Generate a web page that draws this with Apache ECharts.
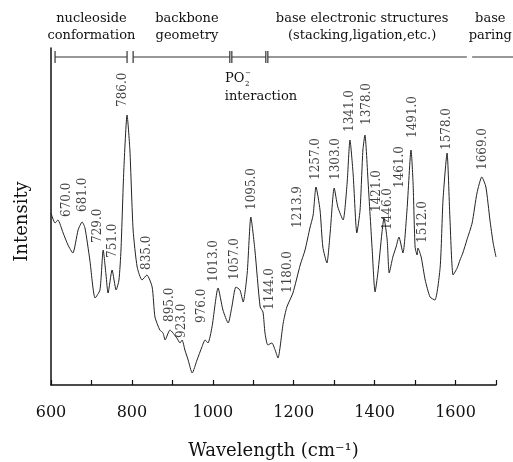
<!DOCTYPE html>
<html>
<head>
<meta charset="utf-8">
<script src="https://cdn.jsdelivr.net/npm/echarts@6/dist/echarts.min.js"></script>
<style>
html, body { margin: 0; padding: 0; background: #fff; }
#chart { width: 513px; height: 462px; }
</style>
</head>
<body>
<div id="chart"></div>
<script>
// spectrum (intensity in arbitrary units)
const wavenumber = [600, 610, 617, 630, 642, 654, 667, 677, 684, 696, 709, 721, 729, 736, 741, 751, 761, 768, 773, 780,
  788, 795, 803, 813, 825, 837, 850, 857, 869, 877, 882, 894, 911, 919, 924, 931, 939, 949, 961, 973,
  981, 988, 998, 1013, 1025, 1038, 1047, 1057, 1067, 1075, 1085, 1094, 1104, 1117, 1124, 1129, 1136, 1146, 1154, 1161,
  1174, 1183, 1198, 1216, 1228, 1240, 1248, 1255, 1265, 1272, 1282, 1290, 1300, 1309, 1322, 1332, 1339, 1347, 1356, 1364,
  1371, 1376, 1384, 1394, 1401, 1408, 1418, 1423, 1431, 1436, 1445, 1453, 1460, 1470, 1480, 1490, 1495, 1500, 1505, 1507,
  1515, 1525, 1537, 1549, 1562, 1569, 1579, 1586, 1594, 1604, 1611, 1618, 1628, 1641, 1653, 1665, 1675, 1685, 1693, 1700];
const intensity = [172, 162, 165, 152, 140, 132, 155, 163, 157, 125, 87, 95, 135, 110, 92, 115, 95, 105, 135, 215,
  270, 235, 155, 118, 105, 110, 98, 68, 55, 52, 45, 55, 47, 42, 45, 35, 25, 12, 25, 38,
  45, 42, 58, 97, 75, 62, 78, 98, 95, 83, 112, 168, 135, 78, 73, 52, 40, 42, 35, 27,
  62, 78, 92, 120, 135, 157, 170, 198, 175, 138, 122, 152, 197, 178, 165, 202, 245, 210, 152, 175,
  235, 250, 202, 135, 93, 112, 152, 167, 145, 112, 128, 138, 148, 132, 175, 235, 202, 138, 130, 137,
  128, 105, 88, 85, 118, 185, 232, 168, 110, 117, 125, 132, 145, 162, 192, 208, 198, 165, 142, 128];

// peak labels and where they sit
const peakText = ['670.0', '681.0', '729.0', '751.0', '786.0', '835.0', '895.0', '923.0', '976.0', '1013.0',
  '1057.0', '1095.0', '1144.0', '1180.0', '1213.9', '1257.0', '1303.0', '1341.0', '1378.0', '1421.0',
  '1446.0', '1461.0', '1491.0', '1512.0', '1578.0', '1669.0'];
const peakX = [639, 678, 717, 753, 778, 837, 894, 924, 973, 1003,
  1055, 1097, 1141, 1186, 1211, 1255, 1305, 1339, 1381, 1406,
  1433, 1463, 1495, 1520, 1579, 1668];
const peakY = [168, 173, 142, 127, 278, 115, 63, 47, 62, 103,
  105, 175, 75, 92, 157, 205, 205, 253, 260, 173,
  155, 197, 247, 142, 235, 215];

// assignment brackets along the top
const regionStart = [610, 803, 1047, 1136, 1641];
const regionEnd = [788, 1042, 1131, 1628, 1745];
const regionCapStart = [true, true, true, true, false];
const regionCapEnd = [true, true, true, false, false];
const regionLine1 = ['nucleoside', 'backbone', '', 'base electronic structures', 'base'];
const regionLine2 = ['conformation', 'geometry', '', '(stacking,ligation,etc.)', 'paring'];
const regionTextAt = [700, 936, 0, 1369, 1686];

const serif = 'DejaVu Serif';
const chart = echarts.init(document.getElementById('chart'));

chart.setOption({
  animation: false,
  grid: { left: 51, right: 17, top: 48, bottom: 77, outerBoundsMode: 'none' },
  xAxis: {
    type: 'value', min: 600, max: 1700, interval: 100,
    name: 'Wavelength (cm\u207B\u00B9)', nameLocation: 'middle', nameGap: 57,
    nameTextStyle: { fontFamily: serif, fontSize: 18, color: '#111' },
    axisLine: { lineStyle: { color: '#111', width: 1.5 } },
    axisTick: { inside: true, length: 5, lineStyle: { color: '#111', width: 1.2 } },
    axisLabel: { interval: 1, fontFamily: serif, fontSize: 16, color: '#111', margin: 20,
      formatter: v => (v % 200 === 0 ? String(v) : '') },
    splitLine: { show: false }
  },
  yAxis: {
    type: 'value', min: 0, max: 337,
    name: 'Intensity', nameLocation: 'middle', nameGap: 20,
    nameTextStyle: { fontFamily: serif, fontSize: 18, color: '#111', padding: [0, 10, 0, 0] },
    axisLine: { show: true, lineStyle: { color: '#111', width: 1.5 } },
    axisTick: { show: false }, axisLabel: { show: false }, splitLine: { show: false }
  },
  series: [
    {
      type: 'line', showSymbol: false, silent: true, smooth: 0.2,
      data: wavenumber.map((w, i) => [w, intensity[i]]),
      lineStyle: { color: '#222', width: 1 }
    },
    {
      type: 'scatter', symbolSize: 0, silent: true,
      data: peakText.map((t, i) => [peakX[i], peakY[i], t]),
      label: {
        show: true, position: 'inside', rotate: 90, align: 'left', verticalAlign: 'middle',
        formatter: p => p.data[2], fontFamily: serif, fontSize: 12, color: '#111'
      }
    }
  ]
});

// brackets and headings drawn in pixel space from the x scale
const toPx = v => chart.convertToPixel({ xAxisIndex: 0 }, v);
const lineY = 57;
const stroke = { stroke: '#333', lineWidth: 1.2 };
const graphics = [];
regionStart.forEach((s, i) => {
  const x1 = toPx(s), x2 = toPx(regionEnd[i]);
  graphics.push({ type: 'line', shape: { x1, y1: lineY, x2, y2: lineY }, style: stroke, silent: true });
  if (regionCapStart[i]) graphics.push({ type: 'line', shape: { x1, y1: lineY - 6, x2: x1, y2: lineY + 6 }, style: stroke, silent: true });
  if (regionCapEnd[i]) graphics.push({ type: 'line', shape: { x1: x2, y1: lineY - 6, x2, y2: lineY + 6 }, style: stroke, silent: true });
  if (regionLine1[i]) {
    const cx = toPx(regionTextAt[i]);
    graphics.push({ type: 'text', x: cx, y: 19, silent: true,
      style: { text: regionLine1[i], font: '13px "DejaVu Serif"', fill: '#111', align: 'center', verticalAlign: 'middle' } });
    graphics.push({ type: 'text', x: cx, y: 36, silent: true,
      style: { text: regionLine2[i], font: '13px "DejaVu Serif"', fill: '#111', align: 'center', verticalAlign: 'middle' } });
  }
});
// PO2- interaction note
const poX = toPx(1030);
graphics.push({ type: 'text', x: poX, y: 79, silent: true,
  style: { text: 'PO', font: '13px "DejaVu Serif"', fill: '#111', align: 'left', verticalAlign: 'middle' } });
graphics.push({ type: 'text', x: poX + 20, y: 84, silent: true,
  style: { text: '2', font: '7px "DejaVu Serif"', fill: '#111', align: 'left', verticalAlign: 'middle' } });
graphics.push({ type: 'text', x: poX + 20, y: 73, silent: true,
  style: { text: '\u2212', font: '7px "DejaVu Serif"', fill: '#111', align: 'left', verticalAlign: 'middle' } });
graphics.push({ type: 'text', x: toPx(1119), y: 97, silent: true,
  style: { text: 'interaction', font: '13px "DejaVu Serif"', fill: '#111', align: 'center', verticalAlign: 'middle' } });

chart.setOption({ graphic: graphics });
</script>
</body>
</html>
